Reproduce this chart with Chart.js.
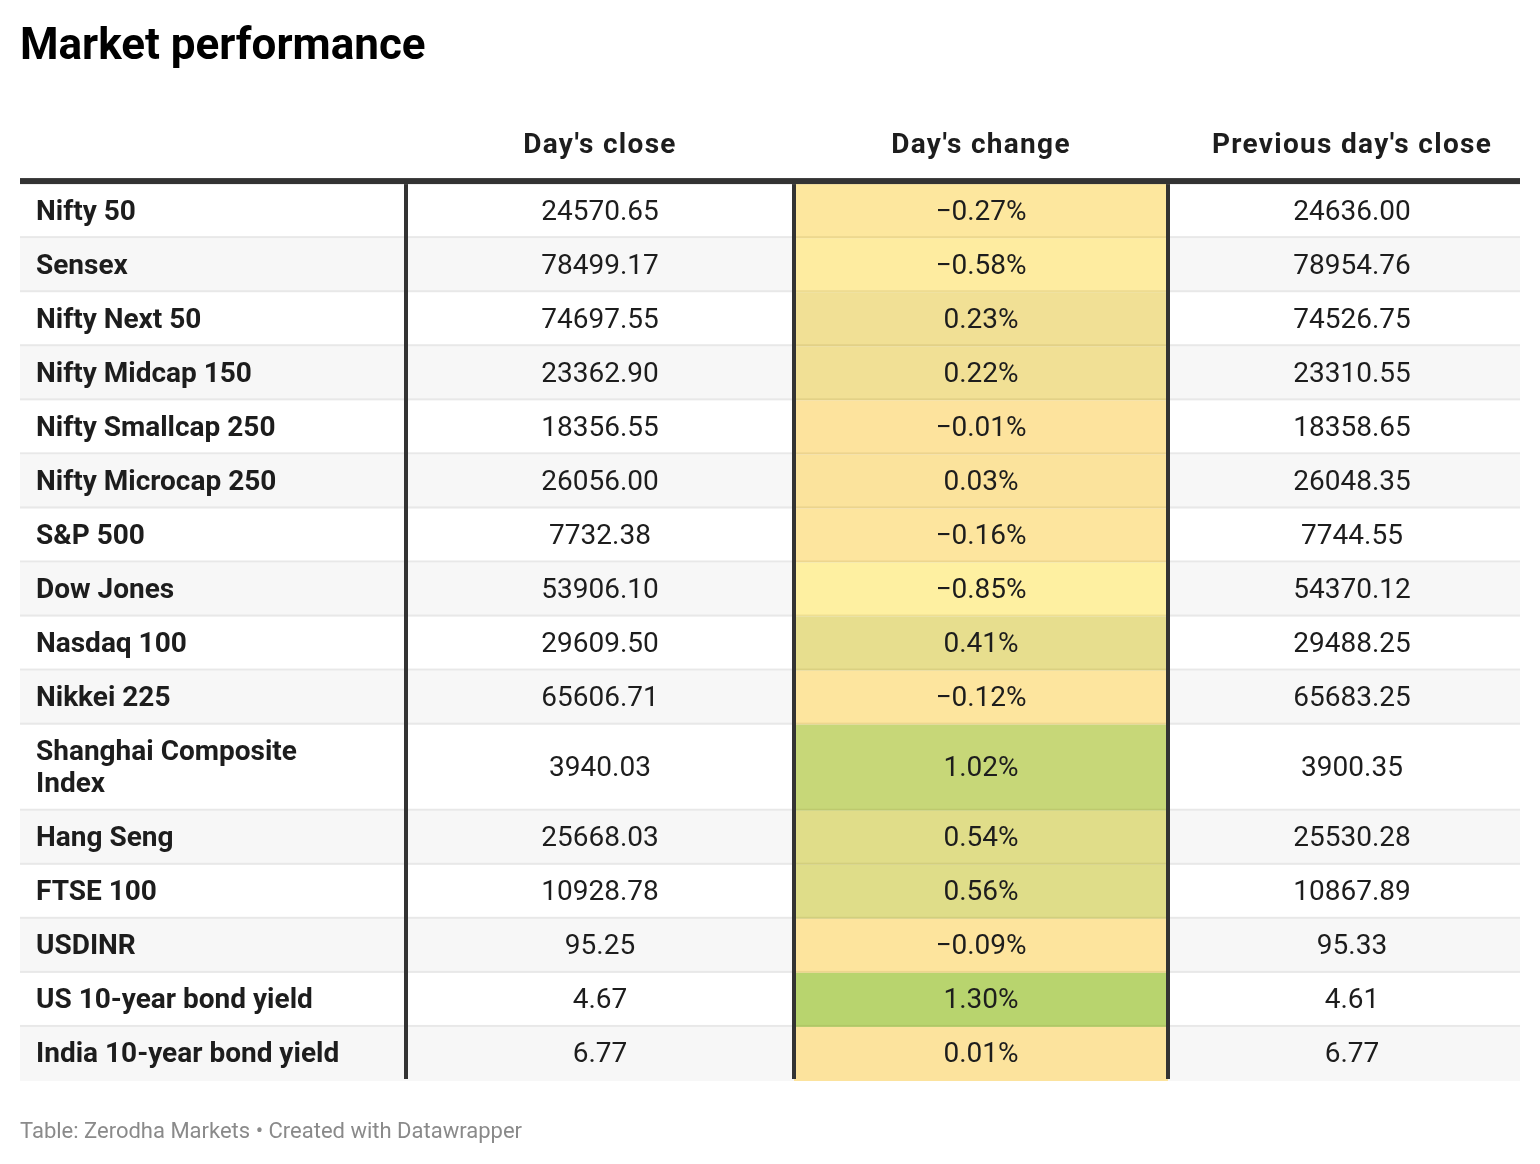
<!DOCTYPE html>
<html>
<head>
<meta charset="utf-8">
<title>Market performance</title>
<script src="https://cdn.jsdelivr.net/npm/chart.js@4.4.1/dist/chart.umd.min.js"></script>
<style>
  html, body { margin: 0; background: #fff; }
  #wrap { width: 1540px; height: 1164px; }
</style>
</head>
<body>
<div id="wrap"><canvas id="tabla"></canvas></div>
<script>
// Datos de la tabla
const indices = [
  'Nifty 50', 'Sensex', 'Nifty Next 50', 'Nifty Midcap 150', 'Nifty Smallcap 250',
  'Nifty Microcap 250', 'S&P 500', 'Dow Jones', 'Nasdaq 100', 'Nikkei 225',
  'Shanghai Composite Index', 'Hang Seng', 'FTSE 100', 'USDINR',
  'US 10-year bond yield', 'India 10-year bond yield'
];
const daysClose = [
  24570.65, 78499.17, 74697.55, 23362.90, 18356.55, 26056.00, 7732.38, 53906.10,
  29609.50, 65606.71, 3940.03, 25668.03, 10928.78, 95.25, 4.67, 6.77
];
const daysChange = [
  -0.27, -0.58, 0.23, 0.22, -0.01, 0.03, -0.16, -0.85,
  0.41, -0.12, 1.02, 0.54, 0.56, -0.09, 1.30, 0.01
];
const prevClose = [
  24636.00, 78954.76, 74526.75, 23310.55, 18358.65, 26048.35, 7744.55, 54370.12,
  29488.25, 65683.25, 3900.35, 25530.28, 10867.89, 95.33, 4.61, 6.77
];
const headers = ['', "Day's close", "Day's change", "Previous day's close"];

// Diseño (unidades de las escalas)
const FONT = 'Roboto';
const colEdges = [20, 406, 794, 1168, 1520];
const colText = [36, 600, 981, 1352];
const headerH = 84, rowH = 54, lineH = 32, sep = 2, labelMax = 320;
const bodySize = 28, headSize = 28, textShift = 2.5;

// Escala de color para la columna de cambio
const stops = [[-0.85, [254, 240, 161]], [0, [253, 227, 157]], [1.30, [184, 212, 110]]];
function colorCambio(v) {
  let i = 0;
  while (i < stops.length - 2 && v > stops[i + 1][0]) i++;
  const [a, ca] = stops[i], [b, cb] = stops[i + 1];
  const t = Math.max(0, Math.min(1, (v - a) / (b - a)));
  const c = ca.map((k, j) => Math.round(k + (cb[j] - k) * t));
  return `rgb(${c[0]}, ${c[1]}, ${c[2]})`;
}

function fmtCambio(v) {
  return (v < 0 ? '\u2212' : '') + Math.abs(v).toFixed(2) + '%';
}

// Partir etiquetas largas en varias líneas
const medidor = document.createElement('canvas').getContext('2d');
medidor.font = `bold ${bodySize}px ${FONT}`;
function partir(texto) {
  const palabras = texto.split(' ');
  const lineas = [];
  let actual = '';
  palabras.forEach(p => {
    const prueba = actual ? actual + ' ' + p : p;
    if (actual && medidor.measureText(prueba).width > labelMax) {
      lineas.push(actual);
      actual = p;
    } else {
      actual = prueba;
    }
  });
  lineas.push(actual);
  return lineas;
}

const etiquetas = indices.map(partir);
const filas = [];
let acumulado = headerH;
etiquetas.forEach(l => {
  const alto = rowH + lineH * (l.length - 1);
  filas.push({ top: acumulado, bottom: acumulado + alto - sep });
  acumulado += alto;
});
const yMax = acumulado - sep;

// Plugin que dibuja la tabla usando las escalas del gráfico
const tablaPlugin = {
  id: 'tabla',
  afterDraw(chart) {
    const { ctx, scales: { x, y } } = chart;
    const px = v => x.getPixelForValue(v);
    const py = v => y.getPixelForValue(v);
    ctx.save();

    // fondos alternos
    filas.forEach((f, i) => {
      if (i % 2 === 1) {
        ctx.fillStyle = '#f7f7f7';
        ctx.fillRect(px(colEdges[0]), py(f.top), px(colEdges[4]) - px(colEdges[0]), py(f.bottom + sep) - py(f.top));
      }
    });

    // celdas de color
    filas.forEach((f, i) => {
      ctx.fillStyle = colorCambio(daysChange[i]);
      ctx.fillRect(px(colEdges[2]), py(f.top), px(colEdges[3]) - px(colEdges[2]), py(f.bottom + sep) - py(f.top));
    });

    // separadores de fila
    filas.forEach((f, i) => {
      if (i === filas.length - 1) return;
      const h = py(f.bottom + sep) - py(f.bottom);
      ctx.fillStyle = '#e8e8e8';
      ctx.fillRect(px(colEdges[0]), py(f.bottom), px(colEdges[2]) - px(colEdges[0]), h);
      ctx.fillRect(px(colEdges[3]), py(f.bottom), px(colEdges[4]) - px(colEdges[3]), h);
      ctx.fillStyle = 'rgba(120, 110, 40, 0.12)';
      ctx.fillRect(px(colEdges[2]), py(f.bottom), px(colEdges[3]) - px(colEdges[2]), h);
    });

    // líneas verticales
    ctx.fillStyle = '#333333';
    [1, 2, 3].forEach(k => {
      ctx.fillRect(px(colEdges[k]) - 2, py(headerH), 4, py(yMax) - py(headerH));
    });

    // línea bajo la cabecera
    ctx.fillRect(px(colEdges[0]), py(headerH - 6), px(colEdges[4]) - px(colEdges[0]), py(headerH) - py(headerH - 6));

    // cabecera
    ctx.fillStyle = '#1d1d1d';
    ctx.textBaseline = 'middle';
    ctx.textAlign = 'center';
    ctx.font = `bold ${headSize}px ${FONT}`;
    ctx.letterSpacing = '1.3px';
    headers.forEach((h, k) => {
      if (h) ctx.fillText(h, px(colText[k]), py(44 + 2));
    });
    ctx.letterSpacing = '0px';

    // cuerpo
    filas.forEach((f, i) => {
      const centro = py((f.top + f.bottom) / 2 + textShift);
      ctx.textAlign = 'left';
      ctx.font = `bold ${bodySize}px ${FONT}`;
      const l = etiquetas[i];
      l.forEach((t, j) => {
        ctx.fillText(t, px(colText[0]), centro + (j - (l.length - 1) / 2) * lineH);
      });
      ctx.textAlign = 'center';
      ctx.font = `${bodySize}px ${FONT}`;
      ctx.fillText(daysClose[i].toFixed(2), px(colText[1]), centro);
      ctx.fillText(fmtCambio(daysChange[i]), px(colText[2]), centro);
      ctx.fillText(prevClose[i].toFixed(2), px(colText[3]), centro);
    });

    ctx.restore();
  }
};

new Chart(document.getElementById('tabla'), {
  type: 'scatter',
  data: { datasets: [] },
  options: {
    responsive: true,
    maintainAspectRatio: false,
    animation: false,
    layout: { padding: { left: 20, right: 20, top: 0, bottom: 0 } },
    scales: {
      x: { type: 'linear', min: colEdges[0], max: colEdges[4], offset: false, display: false },
      y: { type: 'linear', min: 0, max: yMax, reverse: true, offset: false, display: false }
    },
    plugins: {
      legend: { display: false },
      tooltip: { enabled: false },
      title: {
        display: true,
        text: 'Market performance',
        align: 'start',
        color: '#000',
        font: { family: FONT, size: 44, weight: 'bold' },
        padding: { top: 21.4, bottom: 25.8 }
      },
      subtitle: {
        display: true,
        position: 'bottom',
        text: 'Table: Zerodha Markets \u2022 Created with Datawrapper',
        align: 'start',
        color: '#8a8a8a',
        font: { family: FONT, size: 22 },
        padding: { top: 40, bottom: 18.6 }
      }
    }
  },
  plugins: [tablaPlugin]
});
</script>
</body>
</html>
